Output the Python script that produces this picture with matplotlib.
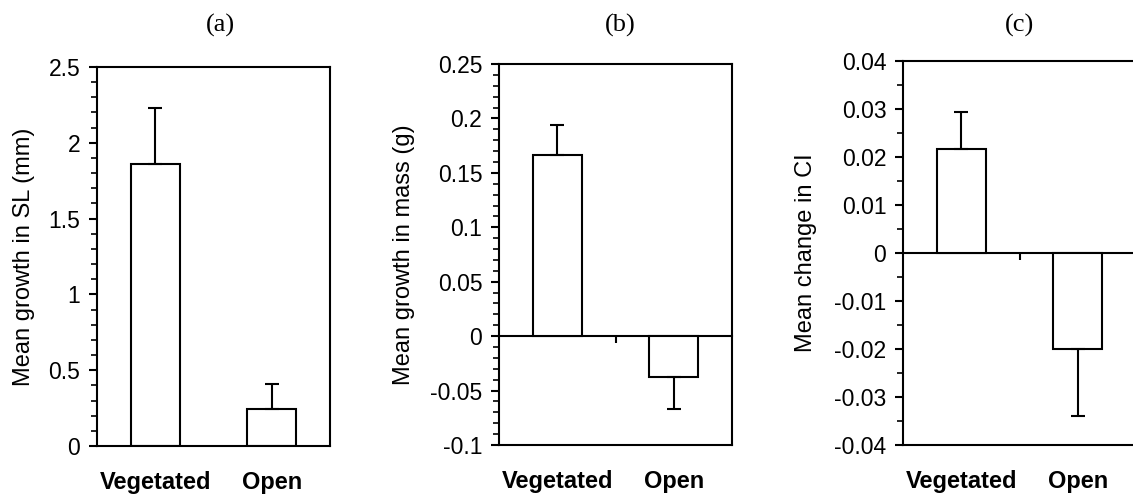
import numpy as np
import matplotlib
matplotlib.use('Agg')
import matplotlib.pyplot as plt
from matplotlib.ticker import MultipleLocator, FuncFormatter

plt.rcParams['font.family'] = ['Liberation Sans', 'DejaVu Sans']
plt.rcParams['axes.unicode_minus'] = False

categories = ['Vegetated', 'Open']

sl_mean = [1.86, 0.245]
sl_err = [0.372, 0.161]

mass_mean = [0.1668, -0.0375]
mass_err = [0.0268, 0.029]

ci_mean = [0.0216, -0.0201]
ci_err = [0.0077, 0.0138]

panel_titles = ['(a)', '(b)', '(c)']
ylabels = ['Mean growth in SL (mm)', 'Mean growth in mass (g)', 'Mean change in CI']
ylims = [(0, 2.5), (-0.1, 0.25), (-0.04, 0.04)]
major_steps = [0.5, 0.05, 0.01]
minor_steps = [0.1, 0.01, 0.005]

W, H = 1133, 494
# axes boxes in pixels: left, right, top, bottom
boxes = [(97, 330, 67, 446), (499, 732, 64, 445), (903, 1136, 61, 445)]
title_x = [220, 620, 1020]
label_x = [35, 415, 817]


def one_sided(means, errs):
    lower = [e if m < 0 else 0 for m, e in zip(means, errs)]
    upper = [e if m >= 0 else 0 for m, e in zip(means, errs)]
    return np.array([lower, upper])


fig = plt.figure(figsize=(W / 100, H / 100), dpi=100)
x = np.arange(len(categories))
data = [(sl_mean, sl_err), (mass_mean, mass_err), (ci_mean, ci_err)]

for i, (means, errs) in enumerate(data):
    l, r, t, b = boxes[i]
    ax = fig.add_axes([l / W, (H - b) / H, (r - l) / W, (b - t) / H])
    ax.bar(x, means, width=0.42, color='white', edgecolor='black', linewidth=1.5, zorder=2)
    ax.errorbar(x, means, yerr=one_sided(means, errs), fmt='none', ecolor='black',
                elinewidth=1.5, capsize=5, capthick=1.5, zorder=3)
    ax.set_xlim(-0.5, 1.5)
    ax.set_ylim(*ylims[i])
    ax.yaxis.set_major_locator(MultipleLocator(major_steps[i]))
    ax.yaxis.set_minor_locator(MultipleLocator(minor_steps[i]))
    ax.yaxis.set_major_formatter(FuncFormatter(lambda v, p: '{:g}'.format(round(v, 4))))
    ax.tick_params(axis='y', which='major', direction='out', length=6, width=1.5,
                   labelsize=16.5, pad=6)
    ax.tick_params(axis='y', which='minor', direction='out', length=4, width=1.2)
    ax.set_xticks(x)
    ax.set_xticklabels(categories, fontsize=17, fontweight='bold')
    ax.tick_params(axis='x', length=0, pad=18)
    for s in ax.spines.values():
        s.set_linewidth(1.5)
    ax.set_ylabel(ylabels[i], fontsize=17)
    ax.yaxis.set_label_coords((label_x[i] - l) / (r - l), 0.5)

    lo, hi = ylims[i]
    if lo < 0:
        # zero line with a tick between the categories
        sec = ax.secondary_xaxis(-lo / (hi - lo))
        sec.set_alignment('bottom')
        sec.set_xticks([0.5])
        sec.set_xticklabels([''])
        sec.tick_params(direction='out', length=5, width=1.5)
        sec.spines['bottom'].set_linewidth(1.5)

    fig.text(title_x[i] / W, 1 - 25 / H, panel_titles[i], fontsize=19,
             family=['Liberation Serif', 'DejaVu Serif'], ha='center', va='center')

fig.savefig('out.png', dpi=100)
